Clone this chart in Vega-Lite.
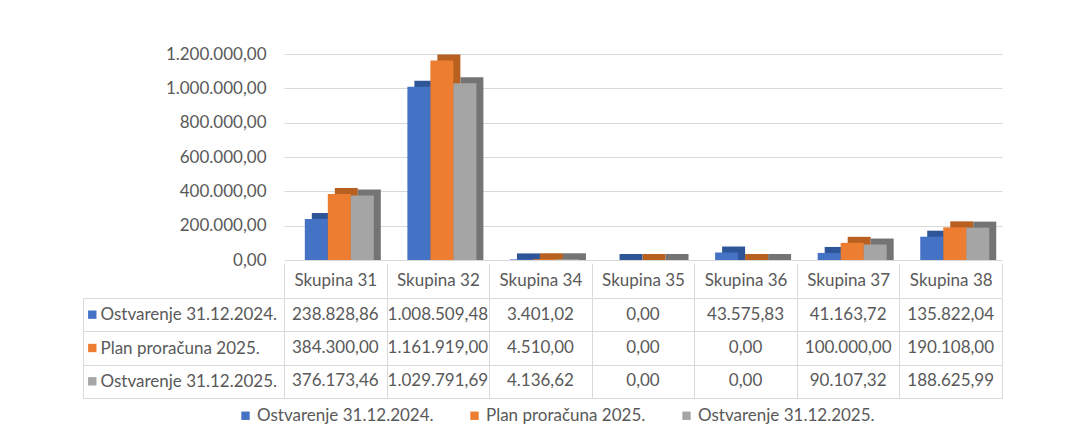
{
  "$schema": "https://vega.github.io/schema/vega-lite/v6.json",
  "autosize": {"type": "pad"},
  "padding": {"left": 82, "top": 45, "right": 10, "bottom": 10},
  "background": "white",
  "config": {
    "font": "Lato",
    "locale": {"number": {"decimal": ",", "thousands": ".", "grouping": [3], "currency": ["", ""]}},
    "view": {"stroke": null}
  },
  "datasets": {
    "vals": [
      {"group": "Skupina 31", "series": "Ostvarenje 31.12.2024.", "value": 238828.86},
      {"group": "Skupina 31", "series": "Plan proračuna 2025.", "value": 384300.00},
      {"group": "Skupina 31", "series": "Ostvarenje 31.12.2025.", "value": 376173.46},
      {"group": "Skupina 32", "series": "Ostvarenje 31.12.2024.", "value": 1008509.48},
      {"group": "Skupina 32", "series": "Plan proračuna 2025.", "value": 1161919.00},
      {"group": "Skupina 32", "series": "Ostvarenje 31.12.2025.", "value": 1029791.69},
      {"group": "Skupina 34", "series": "Ostvarenje 31.12.2024.", "value": 3401.02},
      {"group": "Skupina 34", "series": "Plan proračuna 2025.", "value": 4510.00},
      {"group": "Skupina 34", "series": "Ostvarenje 31.12.2025.", "value": 4136.62},
      {"group": "Skupina 35", "series": "Ostvarenje 31.12.2024.", "value": 0},
      {"group": "Skupina 35", "series": "Plan proračuna 2025.", "value": 0},
      {"group": "Skupina 35", "series": "Ostvarenje 31.12.2025.", "value": 0},
      {"group": "Skupina 36", "series": "Ostvarenje 31.12.2024.", "value": 43575.83},
      {"group": "Skupina 36", "series": "Plan proračuna 2025.", "value": 0},
      {"group": "Skupina 36", "series": "Ostvarenje 31.12.2025.", "value": 0},
      {"group": "Skupina 37", "series": "Ostvarenje 31.12.2024.", "value": 41163.72},
      {"group": "Skupina 37", "series": "Plan proračuna 2025.", "value": 100000.00},
      {"group": "Skupina 37", "series": "Ostvarenje 31.12.2025.", "value": 90107.32},
      {"group": "Skupina 38", "series": "Ostvarenje 31.12.2024.", "value": 135822.04},
      {"group": "Skupina 38", "series": "Plan proračuna 2025.", "value": 190108.00},
      {"group": "Skupina 38", "series": "Ostvarenje 31.12.2025.", "value": 188625.99}
    ],
    "series": [
      {"series": "Ostvarenje 31.12.2024."},
      {"series": "Plan proračuna 2025."},
      {"series": "Ostvarenje 31.12.2025."}
    ]
  },
  "vconcat": [
    {
      "width": 718,
      "height": 206,
      "data": {"name": "vals"},
      "encoding": {
        "x": {
          "field": "group", "type": "nominal", "sort": null,
          "scale": {"paddingInner": 0, "paddingOuter": 0},
          "axis": {
            "title": null, "orient": "bottom", "domain": false, "tickBand": "extent",
            "tickSize": 34, "tickColor": "#d9d9d9", "offset": 3, "labelPadding": -17,
            "labelBaseline": "middle", "labelAngle": 0, "labelFontSize": 17, "labelColor": "#595959"
          }
        },
        "y": {
          "field": "value", "type": "quantitative",
          "scale": {"domain": [0, 1200000], "nice": false},
          "axis": {
            "title": null, "domain": false, "ticks": false, "grid": true, "gridColor": "#d9d9d9",
            "values": [0, 200000, 400000, 600000, 800000, 1000000, 1200000],
            "format": ",.2f", "labelPadding": 18, "labelFontSize": 17, "labelColor": "#595959"
          }
        }
      },
      "layer": [
        {
          "mark": {"type": "bar", "yOffset": -6},
          "encoding": {
            "y2": {"datum": 0},
            "xOffset": {
              "field": "series", "type": "nominal", "sort": null,
              "scale": {"paddingInner": 0, "paddingOuter": 0.73, "align": 0.62, "range": [7, 109.57]}
            },
            "fill": {
              "field": "series", "type": "nominal", "sort": null,
              "scale": {"range": ["#2E5597", "#B8601F", "#747474"]},
              "legend": null
            }
          }
        },
        {
          "mark": {"type": "bar"},
          "encoding": {
            "xOffset": {
              "field": "series", "type": "nominal", "sort": null,
              "scale": {"paddingInner": 0, "paddingOuter": 0.73, "align": 0.62, "range": [0, 102.57]}
            },
            "color": {
              "field": "series", "type": "nominal", "sort": null,
              "scale": {"range": ["#4472C4", "#ED7D31", "#A5A5A5"]},
              "legend": {
                "title": null, "orient": "none", "legendX": -47, "legendY": 353,
                "direction": "horizontal", "symbolType": "square", "symbolSize": 70,
                "symbolStrokeWidth": 0, "labelFontSize": 17, "labelColor": "#595959",
                "columnPadding": 32, "labelOffset": 3, "labelLimit": 0
              }
            }
          }
        }
      ],
      "resolve": {"scale": {"xOffset": "independent"}}
    },
    {
      "width": 718,
      "height": 100,
      "layer": [
        {
          "data": {"name": "vals"},
          "mark": {"type": "text", "fontSize": 17, "color": "#595959"},
          "encoding": {
            "x": {
              "field": "group", "type": "nominal", "sort": null,
              "scale": {"paddingInner": 0, "paddingOuter": 0},
              "axis": {
                "title": null, "orient": "bottom", "labels": false, "ticks": false, "domain": false,
                "grid": true, "gridColor": "#d9d9d9", "tickBand": "extent"
              }
            },
            "y": {
              "field": "series", "type": "nominal", "sort": null,
              "scale": {"paddingInner": 0, "paddingOuter": 0},
              "axis": {
                "title": null, "orient": "left", "offset": 201, "domain": true, "domainColor": "#d9d9d9",
                "tickBand": "extent", "tickSize": -201, "tickColor": "#d9d9d9",
                "grid": true, "gridColor": "#d9d9d9",
                "labelAlign": "left", "labelPadding": 184, "labelBaseline": "middle",
                "labelFontSize": 17, "labelColor": "#595959", "labelLimit": 0
              }
            },
            "text": {"field": "value", "type": "quantitative", "format": ",.2f"}
          }
        },
        {
          "data": {"name": "series"},
          "mark": {"type": "square", "size": 70, "opacity": 1, "xOffset": -243},
          "encoding": {
            "x": {"datum": "Skupina 31", "type": "nominal"},
            "y": {"field": "series", "type": "nominal", "sort": null},
            "color": {"field": "series", "type": "nominal", "sort": null}
          }
        }
      ]
    }
  ],
  "spacing": -11
}
